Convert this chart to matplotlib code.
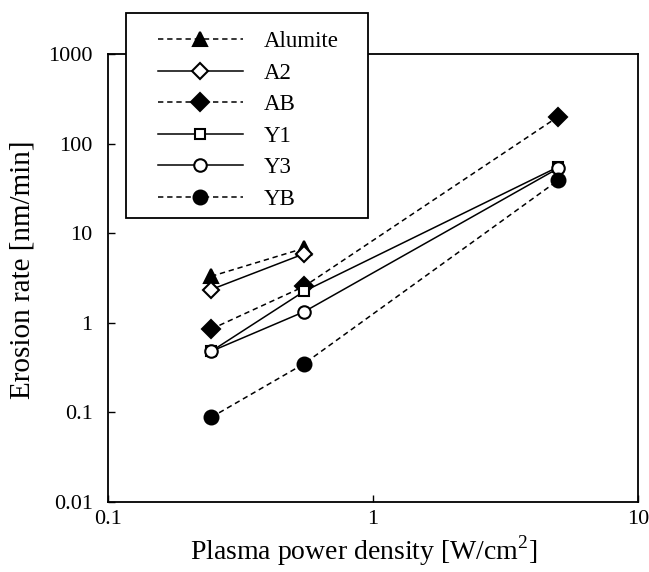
import numpy as np
import matplotlib
matplotlib.use("Agg")
import matplotlib.pyplot as plt
from matplotlib.patches import Rectangle

plt.rcParams['font.family'] = ['Liberation Serif', 'DejaVu Serif']
plt.rcParams['mathtext.fontset'] = 'custom'
plt.rcParams['mathtext.rm'] = 'Liberation Serif'

# power density [W/cm2]
x_low = [0.245, 0.55]
x_all = [0.245, 0.55, 5.0]

alumite = [3.3, 6.8]
a2 = [2.35, 5.9]
ab = [0.85, 2.55, 200]
y1 = [0.48, 2.25, 55]
y3 = [0.48, 1.33, 53]
yb = [0.088, 0.35, 39]

fig = plt.figure(figsize=(6.49, 5.72), dpi=100)
ax = fig.add_axes([108/649, 1-502/572, 530/649, 448/572])

dash = (0, (3.5, 2.5))
kw = dict(color='black', lw=1.1, markeredgewidth=1.5, clip_on=False)
ax.plot(x_low, alumite, ls=dash, marker='^', ms=10, mfc='black', label='Alumite', **kw)
ax.plot(x_low, a2, ls='-', marker='D', ms=8, mfc='white', label='A2', **kw)
ax.plot(x_all, ab, ls=dash, marker='D', ms=9, mfc='black', label='AB', **kw)
ax.plot(x_all, y1, ls='-', marker='s', ms=7, mfc='white', label='Y1', **kw)
ax.plot(x_all, y3, ls='-', marker='o', ms=9, mfc='white', label='Y3', **kw)
ax.plot(x_all, yb, ls=dash, marker='o', ms=10, mfc='black', label='YB', **kw)

ax.set_xscale('log')
ax.set_yscale('log')
ax.set_xlim(0.1, 10)
ax.set_ylim(0.01, 1000)
ax.set_xticks([0.1, 1, 10])
ax.set_xticklabels(['0.1', '1', '10'])
ax.set_yticks([0.01, 0.1, 1, 10, 100, 1000])
ax.set_yticklabels(['0.01', '0.1', '1', '10', '100', '1000'])
ax.minorticks_off()
ax.tick_params(direction='in', length=5, width=1, labelsize=16)
ax.tick_params(axis='x', pad=6)
ax.tick_params(axis='y', pad=11)
for s in ax.spines.values():
    s.set_linewidth(1.3)

ax.set_xlabel('Plasma power density [W/cm$^\\mathregular{2}$]', fontsize=20)
ax.set_ylabel('Erosion rate [nm/min]', fontsize=21)
ax.xaxis.set_label_coords(0.483, -0.071)
ax.yaxis.set_label_coords(-0.136, 0.518)

# legend box drawn in figure coordinates
fig.patches.append(Rectangle((126/649, 1-218/572), 242/649, 205/572,
                             transform=fig.transFigure, fill=True, fc='white',
                             ec='black', lw=1.3, zorder=5))
handles, labels = ax.get_legend_handles_labels()
leg = fig.legend(handles, labels, loc='upper left', bbox_to_anchor=(158/649, 1-31/572),
                 frameon=False, fontsize=16.5,
                 handlelength=3.7, handletextpad=0.9, labelspacing=0.46,
                 borderpad=0, borderaxespad=0)
leg.set_zorder(6)

fig.savefig('out.png', dpi=100)
